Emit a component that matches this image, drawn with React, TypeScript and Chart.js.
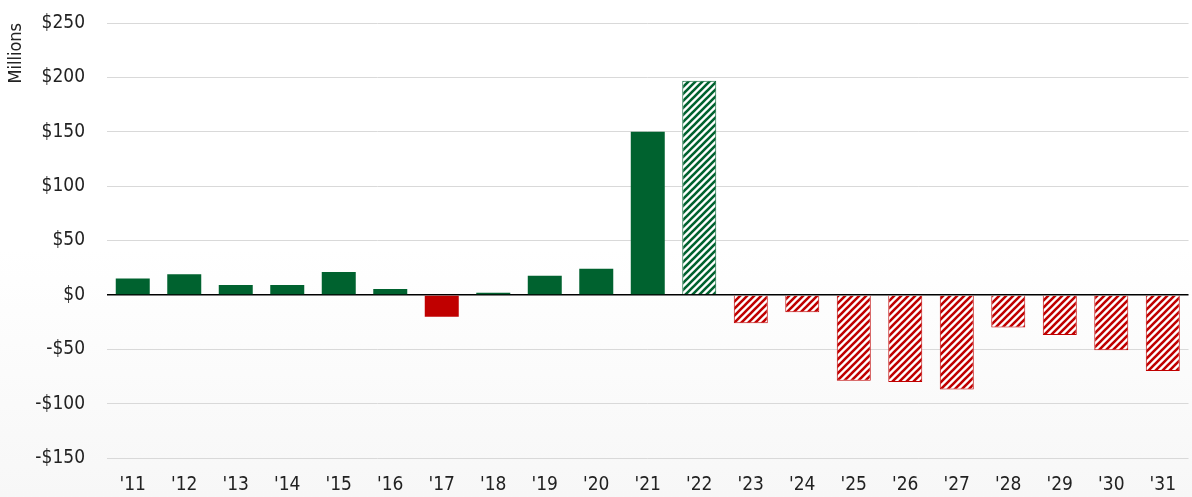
import React, { useEffect, useRef } from "react";
import { Chart, registerables } from "chart.js";

Chart.register(...registerables);

const categories = ["'11", "'12", "'13", "'14", "'15", "'16", "'17", "'18", "'19", "'20", "'21", "'22", "'23", "'24", "'25", "'26", "'27", "'28", "'29", "'30", "'31"];
const values = [15, 19, 9, 9, 21, 5.5, -20, 2, 17.5, 24, 150, 197, -26, -16, -79, -80, -87, -30, -37, -51, -70];
// true = projected (hatched)
const projected = [false, false, false, false, false, false, false, false, false, false, false, true, true, true, true, true, true, true, true, true, true];
const yTicks = [250, 200, 150, 100, 50, 0, -50, -100, -150];

const GREEN = "#00622F";
const RED = "#C00000";
const FONT = "'Liberation Sans Narrow', 'Arial Narrow', 'DejaVu Sans Condensed', sans-serif";

function makeHatch(color: string): CanvasPattern | string {
  const size = 7;
  const c = document.createElement("canvas");
  c.width = size;
  c.height = size;
  const ctx = c.getContext("2d");
  if (!ctx) return color;
  ctx.fillStyle = "#ffffff";
  ctx.fillRect(0, 0, size, size);
  ctx.strokeStyle = color;
  ctx.lineWidth = 2.6;
  ctx.beginPath();
  for (let k = -1; k <= 1; k++) {
    ctx.moveTo(k * size - 1, size + 1);
    ctx.lineTo(k * size + size + 1, -1);
  }
  ctx.stroke();
  return ctx.createPattern(c, "repeat") || color;
}

const bgPlugin = {
  id: "bgGradient",
  beforeDraw(chart: any) {
    const { ctx, width, height } = chart;
    const g = ctx.createLinearGradient(0, 0, 0, height);
    g.addColorStop(0, "#ffffff");
    g.addColorStop(0.5, "#ffffff");
    g.addColorStop(1, "#f7f7f7");
    ctx.save();
    ctx.fillStyle = g;
    ctx.fillRect(0, 0, width, height);
    ctx.restore();
  },
};

export default function App() {
  const ref = useRef<HTMLCanvasElement>(null);
  useEffect(() => {
    if (!ref.current) return;
    const greenHatch = makeHatch(GREEN);
    const redHatch = makeHatch(RED);
    const bg = values.map((v, i) => {
      const pos = v >= 0;
      if (projected[i]) return pos ? greenHatch : redHatch;
      return pos ? GREEN : RED;
    });
    const border = values.map((v) => (v >= 0 ? GREEN : RED));
    const bw = projected.map((p) => (p ? 1 : 0));
    const chart = new Chart(ref.current, {
      type: "bar",
      data: {
        labels: categories,
        datasets: [
          {
            data: values,
            backgroundColor: bg as any,
            borderColor: border,
            borderWidth: bw,
            categoryPercentage: 1,
            barPercentage: 0.66,
          },
        ],
      },
      plugins: [bgPlugin],
      options: {
        animation: false,
        responsive: false,
        layout: { padding: { top: 23, right: 0, bottom: 0, left: 0 } },
        plugins: { legend: { display: false }, tooltip: { enabled: false } },
        scales: {
          x: {
            grid: { display: false, drawTicks: false },
            border: { display: false },
            afterFit: (scale: any) => {
              scale.height = 39;
            },
            ticks: { color: "#222", font: { family: FONT, size: 19 }, padding: 16, maxRotation: 0 },
          },
          y: {
            min: -150,
            max: 250,
            afterBuildTicks: (scale: any) => {
              scale.ticks = yTicks.map((v) => ({ value: v }));
            },
            afterFit: (scale: any) => {
              scale.width = 107;
              scale.paddingTop = 0;
              scale.paddingBottom = 0;
            },
            grid: {
              drawTicks: false,
              color: (ctx: any) => (ctx.tick && ctx.tick.value === 0 ? "#000000" : "#d9d9d9"),
              lineWidth: (ctx: any) => (ctx.tick && ctx.tick.value === 0 ? 1.5 : 1),
            },
            border: { display: false },
            ticks: {
              color: "#222",
              font: { family: FONT, size: 19 },
              padding: 22,
              callback: (v: any) => (Number(v) < 0 ? "-$" + Math.abs(Number(v)) : "$" + v),
            },
            title: {
              display: true,
              text: "Millions",
              align: "end",
              color: "#222",
              font: { family: FONT, size: 18 },
              padding: { top: 6, bottom: 0 },
            },
          },
        },
      },
    });
    return () => chart.destroy();
  }, []);
  return (
    <div style={{ position: "fixed", left: 0, top: 0, width: 1192, height: 497 }}>
      <canvas ref={ref} width={1192} height={497} />
    </div>
  );
}
